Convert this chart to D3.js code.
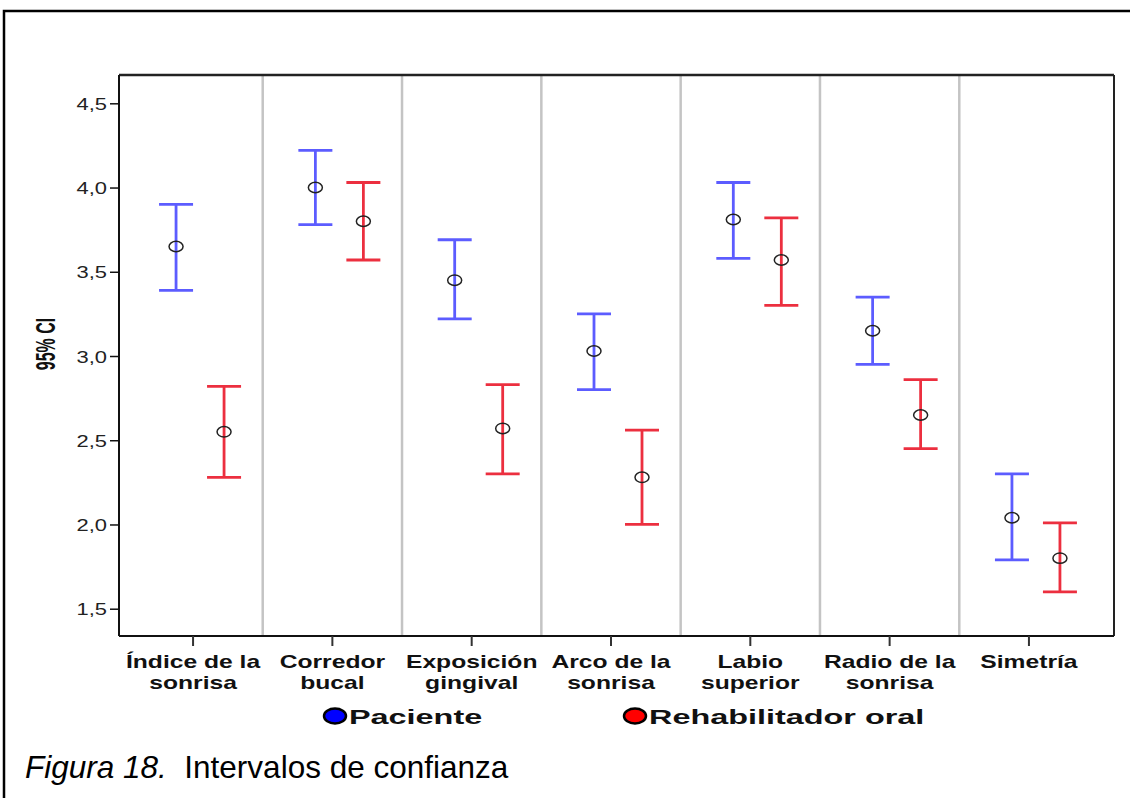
<!DOCTYPE html>
<html>
<head>
<meta charset="utf-8">
<script src="https://cdn.jsdelivr.net/npm/d3@7"></script>
<style>
  html, body { margin: 0; padding: 0; background: #fff; }
  svg { display: block; font-family: "Liberation Sans", Arial, sans-serif; }
</style>
</head>
<body>
<svg id="chart" width="1130" height="798"></svg>
<script>
// ---- data ----
const categories = ["Índice de la sonrisa", "Corredor bucal", "Exposición gingival", "Arco de la sonrisa", "Labio superior", "Radio de la sonrisa", "Simetría"];
const categoryLines = [["Índice de la", "sonrisa"], ["Corredor", "bucal"], ["Exposición", "gingival"], ["Arco de la", "sonrisa"], ["Labio", "superior"], ["Radio de la", "sonrisa"], ["Simetría"]];
const seriesNames = ["Paciente", "Rehabilitador oral"];
const pacienteMean  = [3.65, 4.00, 3.45, 3.03, 3.81, 3.15, 2.04];
const pacienteLow   = [3.39, 3.78, 3.22, 2.80, 3.58, 2.95, 1.79];
const pacienteHigh  = [3.90, 4.22, 3.69, 3.25, 4.03, 3.35, 2.30];
const rehabMean     = [2.55, 3.80, 2.57, 2.28, 3.57, 2.65, 1.80];
const rehabLow      = [2.28, 3.57, 2.30, 2.00, 3.30, 2.45, 1.60];
const rehabHigh     = [2.82, 4.03, 2.83, 2.56, 3.82, 2.86, 2.01];
const yTicks = [1.5, 2.0, 2.5, 3.0, 3.5, 4.0, 4.5];
const yLabel = "95% CI";
const caption = ["Figura 18.", "  Intervalos de confianza"];

// ---- layout ----
const svg = d3.select("#chart");
const plot = { left: 119, right: 1114, top: 75, bottom: 636 };
const blueColor = "#5c5cff", redColor = "#ec2f3f";
const stretch = 1.37; // the original SPSS chart is horizontally stretched

const x = d3.scaleBand().domain(categories).range([123.4, 1098.6]);
const y = d3.scaleLinear().domain([1.338, 4.668]).range([plot.bottom, plot.top]);

// outer frame
svg.append("rect").attr("x", 4).attr("y", 11).attr("width", 1140).attr("height", 800)
  .attr("fill", "none").attr("stroke", "#000").attr("stroke-width", 2.5);

// category separators
categories.slice(1).forEach(c => {
  svg.append("line").attr("x1", x(c)).attr("x2", x(c)).attr("y1", plot.top).attr("y2", plot.bottom)
    .attr("stroke", "#c4c4c4").attr("stroke-width", 2.5);
});

// top & right borders
svg.append("line").attr("x1", plot.left).attr("x2", plot.right).attr("y1", plot.top).attr("y2", plot.top)
  .attr("stroke", "#222").attr("stroke-width", 2.5);
svg.append("line").attr("x1", plot.right).attr("x2", plot.right).attr("y1", plot.top).attr("y2", plot.bottom)
  .attr("stroke", "#222").attr("stroke-width", 2);

// y axis
const yAxis = d3.axisLeft(y).tickValues(yTicks).tickSize(9).tickPadding(0).tickFormat(() => "");
const gy = svg.append("g").attr("transform", `translate(${plot.left},0)`).call(yAxis);
gy.select(".domain").attr("stroke", "#111").attr("stroke-width", 2).attr("d", `M0,${plot.top}V${plot.bottom}`);
gy.selectAll(".tick line").attr("stroke", "#111").attr("stroke-width", 1.5);
gy.selectAll(".tick").append("g")
  .attr("transform", `translate(-12,6) scale(${stretch},1)`)
  .append("text")
  .attr("text-anchor", "end").attr("fill", "#222").attr("font-size", 16)
  .text(d => d3.format(".1f")(d).replace(".", ","));

// x axis
const xAxis = d3.axisBottom(x).tickSize(10).tickFormat(() => "");
const gx = svg.append("g").attr("transform", `translate(0,${plot.bottom})`).call(xAxis);
gx.select(".domain").attr("stroke", "#111").attr("stroke-width", 2).attr("d", `M${plot.left},0H${plot.right}`);
gx.selectAll(".tick line").attr("stroke", "#333").attr("stroke-width", 2);
gx.selectAll(".tick").each(function(d, i) {
  const g = d3.select(this).append("g").attr("transform", `translate(0,32) scale(${stretch},1)`);
  const t = g.append("text").attr("text-anchor", "middle").attr("font-weight", "bold")
    .attr("font-size", 18).attr("fill", "#111");
  categoryLines[i].forEach((ln, k) => {
    t.append("tspan").attr("x", 0).attr("dy", k === 0 ? 0 : 21).text(ln);
  });
});

// y label
svg.append("g").attr("transform", `translate(55,344) scale(1.75,1) rotate(-90)`)
  .append("text").attr("text-anchor", "middle").attr("font-weight", "bold").attr("font-size", 16)
  .attr("fill", "#111").text(yLabel);

// error bars
const series = [
  { name: seriesNames[0], mean: pacienteMean, low: pacienteLow, high: pacienteHigh, color: blueColor, dx: -17 },
  { name: seriesNames[1], mean: rehabMean, low: rehabLow, high: rehabHigh, color: redColor, dx: 31 }
];
const capHalf = 17;
series.forEach(s => {
  const g = svg.append("g");
  categories.forEach((c, i) => {
    const cx = x(c) + x.bandwidth() / 2 + s.dx;
    g.append("line").attr("x1", cx).attr("x2", cx).attr("y1", y(s.low[i])).attr("y2", y(s.high[i]))
      .attr("stroke", s.color).attr("stroke-width", 2.8);
    [s.low[i], s.high[i]].forEach(v => {
      g.append("line").attr("x1", cx - capHalf).attr("x2", cx + capHalf).attr("y1", y(v)).attr("y2", y(v))
        .attr("stroke", s.color).attr("stroke-width", 2.8);
    });
    g.append("ellipse").attr("cx", cx).attr("cy", y(s.mean[i])).attr("rx", 7).attr("ry", 5.2)
      .attr("fill", "none").attr("stroke", "#222").attr("stroke-width", 1.5);
  });
});

// legend
const legendItems = [
  { name: seriesNames[0], fill: "#0000ff", x: 335 },
  { name: seriesNames[1], fill: "#ff0000", x: 635 }
];
legendItems.forEach(it => {
  svg.append("ellipse").attr("cx", it.x).attr("cy", 716).attr("rx", 11).attr("ry", 7.5)
    .attr("fill", it.fill).attr("stroke", "#000").attr("stroke-width", 2.5);
  svg.append("g").attr("transform", `translate(${it.x + 14},724) scale(1.62,1)`)
    .append("text").attr("font-weight", "bold").attr("font-size", 20).attr("fill", "#111").text(it.name);
});

// caption
const cap = svg.append("text").attr("x", 25).attr("y", 778).attr("font-size", 31.5).attr("fill", "#000")
  .attr("xml:space", "preserve").style("white-space", "pre");
cap.append("tspan").attr("font-style", "italic").text(caption[0]);
cap.append("tspan").text(caption[1]);
</script>
</body>
</html>
